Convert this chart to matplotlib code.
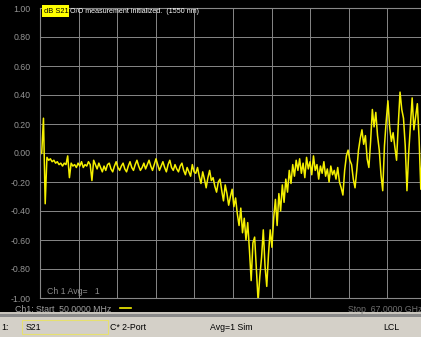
import numpy as np
import matplotlib.pyplot as plt
from matplotlib.patches import Rectangle

f_start = 0.05   # GHz
f_stop = 67.0    # GHz
s21 = [
    -0.01, 0.00, 0.24, -0.35, -0.03, -0.05, -0.04, -0.06, -0.05, -0.07,
    -0.06, -0.08, -0.07, -0.09, -0.07, -0.08, -0.02, -0.17, -0.07, -0.09,
    -0.08, -0.10, -0.07, -0.09, -0.06, -0.10, -0.08, -0.09, -0.06, -0.08,
    -0.19, -0.05, -0.08, -0.11, -0.07, -0.10, -0.13, -0.09, -0.12, -0.08,
    -0.07, -0.11, -0.13, -0.09, -0.06, -0.10, -0.12, -0.09, -0.07, -0.11,
    -0.13, -0.09, -0.06, -0.10, -0.12, -0.08, -0.05, -0.09, -0.12, -0.10,
    -0.07, -0.11, -0.08, -0.05, -0.09, -0.12, -0.08, -0.04, -0.08, -0.12,
    -0.09, -0.06, -0.10, -0.13, -0.08, -0.05, -0.10, -0.12, -0.08, -0.11,
    -0.13, -0.09, -0.07, -0.12, -0.15, -0.10, -0.13, -0.16, -0.08, -0.13,
    -0.14, -0.10, -0.16, -0.21, -0.13, -0.18, -0.24, -0.17, -0.12, -0.19,
    -0.17, -0.23, -0.27, -0.20, -0.18, -0.26, -0.33, -0.22, -0.28, -0.36,
    -0.30, -0.25, -0.37, -0.31, -0.42, -0.50, -0.38, -0.55, -0.45, -0.60,
    -0.48, -0.67, -0.88, -0.62, -0.58, -0.80, -1.02, -0.85, -0.72, -0.53,
    -0.78, -0.92, -0.70, -0.53, -0.65, -0.45, -0.32, -0.50, -0.28, -0.40,
    -0.22, -0.34, -0.18, -0.27, -0.12, -0.21, -0.08, -0.16, -0.05, -0.12,
    -0.04, -0.14, -0.07, -0.17, -0.03, -0.11, -0.06, -0.15, -0.02, -0.12,
    -0.08, -0.18, -0.09, -0.14, -0.06, -0.16, -0.11, -0.20, -0.09, -0.15,
    -0.12, -0.18, -0.10, -0.20, -0.24, -0.29, -0.12, -0.02, 0.02, -0.05,
    -0.08, -0.18, -0.24, -0.12, 0.02, 0.10, 0.16, 0.06, 0.12, -0.04,
    -0.10, 0.08, 0.30, 0.18, 0.28, 0.12, 0.02, -0.15, -0.26, 0.05,
    0.22, 0.36, 0.18, 0.08, 0.14, 0.04, -0.05, 0.20, 0.42, 0.30,
    0.24, 0.05, -0.26, 0.00, 0.19, 0.38, 0.16, 0.25, 0.34, 0.10,
    -0.25, 0.05, 0.15, 0.08,
]
freq = np.linspace(f_start, f_stop, len(s21))
y_ticks = [1.0, 0.8, 0.6, 0.4, 0.2, 0.0, -0.2, -0.4, -0.6, -0.8, -1.0]

W, H = 421, 337
fig = plt.figure(figsize=(W / 100, H / 100), dpi=100)
fig.patch.set_facecolor('black')
plt.rcParams['font.family'] = ['Liberation Sans', 'DejaVu Sans']

def px(x, y):
    return x / W, 1 - y / H

# area do grafico (a direita passa da borda da imagem)
ax = fig.add_axes([40 / W, (H - 298) / H, 386 / W, 290 / H])
ax.set_facecolor('black')
ax.plot(freq, s21, color='#f5f000', lw=1.1)
ax.set_xlim(f_start, f_stop)
ax.set_ylim(-1, 1)
ax.set_xticks(np.linspace(f_start, f_stop, 11))
ax.set_yticks(y_ticks)
ax.set_yticklabels(['%.2f' % v for v in y_ticks])
ax.grid(True, color='#888888', lw=0.7)
ax.tick_params(axis='y', length=0, pad=7, labelsize=6.3, labelcolor='#959595')
ax.tick_params(axis='x', length=0, labelbottom=False)
for s in ax.spines.values():
    s.set_color('#888888')
    s.set_linewidth(0.8)

ax.text(0.018, 0.008, 'Ch 1 Avg=   1', transform=ax.transAxes, color='#8a8a8a',
        fontsize=6.3, va='bottom', ha='left')

# titulo do trace
fig.patches.append(Rectangle(px(42, 17), 27 / W, 12 / H, transform=fig.transFigure,
                             facecolor='#ffff00', edgecolor='none'))
fig.text(*px(43.5, 11.5), 'dB S21', color='black', fontsize=5.4, va='center')
fig.text(*px(70, 11.5), 'O/O measurement initialized.  (1550 nm)', color='white',
         fontsize=5.1, va='center')

# faixa inferior
fig.text(*px(15, 309), 'Ch1: Start  50.0000 MHz', color='#a0a0a0', fontsize=6.3, va='center')
fig.add_artist(plt.Line2D([120 / W, 131 / W], [1 - 308 / H, 1 - 308 / H],
                          color='#f5f000', lw=1.2, transform=fig.transFigure))
fig.text(*px(348, 309), 'Stop  67.0000 GHz', color='#707070', fontsize=6.3, va='center')

# barra de status
fig.patches.append(Rectangle((0, 0), 1, 23 / H, transform=fig.transFigure,
                             facecolor='#d4d0c8', edgecolor='none'))
fig.patches.append(Rectangle(px(0, 317), 1, 3 / H, transform=fig.transFigure,
                             facecolor='#8a8a8a', edgecolor='none'))
fig.patches.append(Rectangle(px(0, 314), 1, 2 / H, transform=fig.transFigure,
                             facecolor='#c8c4bc', edgecolor='none'))
fig.patches.append(Rectangle(px(22, 334), 86 / W, 14 / H, transform=fig.transFigure,
                             facecolor='#d4d0c8', edgecolor='#e6e070', lw=0.8))
for x, t in [(1, '1:'), (26, 'S21'), (110, 'C* 2-Port'), (210, 'Avg=1 Sim'), (383, 'LCL')]:
    fig.text(*px(x, 327), t, color='black', fontsize=6.3, va='center')

fig.savefig('out.png', dpi=100, facecolor=fig.get_facecolor())
